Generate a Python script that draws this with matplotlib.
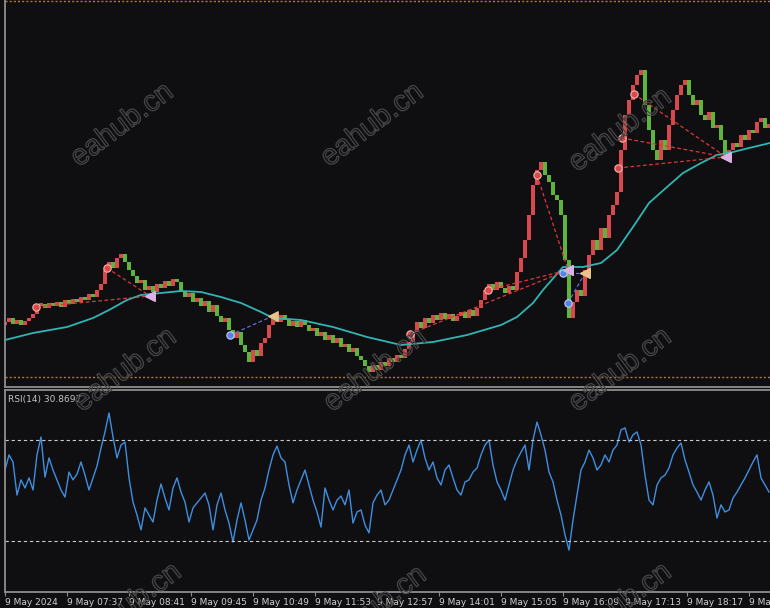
import numpy as np
import matplotlib.pyplot as plt
import matplotlib.patheffects as pe

# close of each 4-minute bar
close = [
    2307.8, 2308.2, 2307.6, 2308.0, 2307.5, 2307.9, 2308.2, 2308.6, 2309.4, 2309.6,
    2309.2, 2309.7, 2309.4, 2309.8, 2309.3, 2310.0, 2309.6, 2310.1, 2309.8, 2310.3,
    2310.0, 2310.6, 2310.3, 2311.0, 2311.6, 2313.0, 2313.8, 2313.2, 2314.2, 2314.6,
    2313.8, 2313.0, 2312.4, 2311.7, 2312.0, 2311.0, 2311.4, 2310.8, 2311.6, 2311.2,
    2311.9, 2311.4, 2312.1, 2311.8, 2310.8, 2310.3, 2310.7, 2309.8, 2310.2, 2309.4,
    2309.9, 2308.8, 2309.5, 2308.4, 2307.8, 2308.2, 2307.0, 2306.2, 2306.8, 2305.5,
    2304.8, 2303.8, 2305.0, 2304.4, 2305.7, 2306.2, 2307.5, 2308.2, 2307.8, 2308.5,
    2308.0, 2307.4, 2307.9, 2307.3, 2308.0, 2307.5, 2306.9, 2307.2, 2306.4, 2306.8,
    2306.0, 2306.5, 2305.7, 2306.2, 2305.3, 2305.6, 2304.8, 2305.2, 2304.4, 2304.0,
    2303.4, 2302.8, 2303.5, 2303.0, 2303.8, 2303.4, 2304.2, 2303.8, 2304.5, 2304.2,
    2305.1, 2305.8, 2306.8, 2307.8, 2307.2, 2308.2, 2307.7, 2308.5, 2308.0, 2308.7,
    2308.1, 2308.6, 2307.9, 2308.4, 2308.8, 2308.2, 2309.0, 2308.4, 2309.2, 2310.0,
    2311.0, 2311.6, 2311.0, 2311.8, 2311.2, 2310.7, 2311.4, 2311.0, 2312.8, 2314.2,
    2316.0, 2318.5, 2321.5, 2323.0, 2323.8, 2322.5, 2321.8, 2320.5, 2320.0, 2318.5,
    2314.0, 2308.2, 2309.8, 2311.0, 2310.4, 2313.0, 2314.5, 2316.0, 2315.0, 2317.2,
    2316.2, 2318.5, 2319.5, 2320.8, 2325.0, 2328.5, 2330.0, 2331.5, 2332.5, 2333.0,
    2329.5, 2327.0, 2325.0, 2324.0, 2326.0, 2325.0, 2327.5, 2329.0, 2330.5, 2331.5,
    2332.0, 2330.5, 2329.5, 2330.0, 2328.5, 2328.0, 2328.8, 2327.2, 2327.5, 2326.0,
    2324.2, 2325.0, 2325.7, 2325.3, 2326.5, 2326.0, 2327.0, 2326.7, 2327.8, 2328.2,
    2327.2, 2327.6,
]
first_open = 2307.5

# moving average (bar index, price)
ma_idx = [0, 7, 15.5, 22, 26, 30.5, 34, 39, 44, 49, 54, 59, 64, 67, 74, 82, 90.5, 99,
          107, 115.5, 124, 128, 132, 134.5, 139.5, 144.5, 149, 153, 157, 161, 165.5,
          169.5, 174, 178, 182, 186, 191.25]
ma_val = [2306.0, 2306.7, 2307.3, 2308.2, 2309.0, 2310.0, 2310.5, 2310.7, 2310.9,
          2310.8, 2310.3, 2309.7, 2308.8, 2308.2, 2308.0, 2307.3, 2306.3, 2305.5,
          2305.8, 2306.5, 2307.5, 2308.3, 2309.7, 2311.0, 2313.3, 2313.3, 2313.7,
          2315.0, 2317.3, 2319.7, 2321.3, 2322.7, 2323.7, 2324.5, 2324.8, 2325.2,
          2325.7]

rsi = [
    58.1, 64.1, 61.3, 48.2, 54.2, 51.0, 55.0, 50.2, 64.1, 71.2,
    55.3, 62.9, 58.1, 54.2, 50.2, 47.4, 57.3, 54.2, 56.5, 61.3,
    56.1, 50.2, 55.0, 59.7, 66.8, 73.2, 80.7, 71.2, 62.9, 68.0,
    69.2, 55.0, 45.4, 40.3, 34.4, 43.1, 40.3, 37.5, 46.2, 52.6,
    47.0, 42.3, 51.0, 55.0, 49.4, 45.4, 37.5, 43.1, 45.1, 47.0,
    49.0, 44.3, 34.4, 44.3, 49.0, 42.3, 37.1, 29.6, 38.3, 45.1,
    38.3, 30.4, 34.4, 38.3, 46.2, 51.0, 58.1, 64.1, 67.6, 62.9,
    61.3, 52.2, 45.1, 50.2, 54.2, 58.1, 52.2, 46.2, 41.5, 35.5,
    51.0, 46.2, 42.3, 46.2, 47.8, 44.3, 50.2, 37.1, 41.5, 42.3,
    36.3, 33.2, 45.1, 48.2, 50.2, 44.3, 46.2, 50.2, 54.2, 58.1,
    64.1, 68.0, 61.3, 66.0, 70.0, 62.9, 58.1, 61.3, 55.0, 52.2,
    58.1, 60.1, 55.0, 50.2, 48.2, 53.4, 54.2, 57.3, 58.9, 64.1,
    68.0, 70.0, 60.1, 53.4, 50.2, 46.2, 52.2, 58.1, 62.1, 65.2,
    68.0, 58.1, 70.0, 77.1, 72.0, 66.0, 57.3, 53.4, 46.2, 40.3,
    32.4, 26.4, 38.3, 48.2, 58.1, 61.3, 66.0, 62.9, 58.1, 60.1,
    64.1, 61.3, 66.0, 68.0, 74.0, 74.8, 69.2, 72.0, 73.2, 68.0,
    56.1, 46.2, 44.3, 52.2, 55.0, 56.1, 58.9, 64.1, 66.8, 68.8,
    62.1, 57.3, 52.2, 49.4, 46.2, 50.2, 53.4, 48.2, 39.1, 44.3,
    41.5, 42.3, 47.0, 49.4, 52.2, 55.0, 58.1, 61.3, 64.1, 55.0,
    52.2, 49.4,
]

# trades: entry (bar, price) -> exit (bar, price)
sell_entries = [(7.75, 2309.3), (25.5, 2313.2), (101.25, 2306.6), (120.75, 2311.0),
                (133, 2322.5), (153.25, 2323.2), (154.25, 2326.2), (157.25, 2330.6)]
sell_exits = [(36.25, 2310.4), (36.25, 2310.4), (140.75, 2313.0), (140.75, 2313.0),
              (140.75, 2313.0), (180.25, 2324.3), (180.25, 2324.3), (180.25, 2324.3)]
buy_entries = [(56.25, 2306.5), (139.5, 2312.7), (140.75, 2309.7)]
buy_exits = [(67, 2308.4), (145, 2312.7), (145, 2312.7)]

levels = [2339.9, 2302.3]

tick_minutes = [0, 64, 128, 192, 256, 320, 384, 448, 512, 576, 640, 704, 768]
tick_labels = ["9 May 2024", "9 May 07:37", "9 May 08:41", "9 May 09:45",
               "9 May 10:49", "9 May 11:53", "9 May 12:57", "9 May 14:01",
               "9 May 15:05", "9 May 16:09", "9 May 17:13", "9 May 18:17",
               "9 May 19:21"]
bar_minutes = 64 / 15.5

bg = "#0f0e11"
grey = "#8e8e8e"

fig = plt.figure(figsize=(7.70, 6.08), dpi=100, facecolor=bg)
ax = fig.add_axes([5 / 770, 1 - 387 / 608, 765 / 770, 387 / 608], facecolor=bg)
ax2 = fig.add_axes([5 / 770, 16 / 608, 765 / 770, 202 / 608], facecolor=bg)

# candles, open = previous close
x = np.arange(len(close))
c = np.array(close)
o = np.array([first_open] + close[:-1])
up = c >= o
h = np.where(np.abs(c - o) < 0.3, np.where(up, 0.3, -0.3), c - o)
ax.bar(x[up], h[up], bottom=o[up], width=0.85, color="#d9484c", linewidth=0)
ax.bar(x[~up], h[~up], bottom=o[~up], width=0.85, color="#5fb43e", linewidth=0)

ax.plot(ma_idx, ma_val, color="#2fb5b2", lw=1.3, zorder=3)

for lv in levels:
    ax.axhline(lv, color="#b5782e", lw=1.0, ls=(0, (1.5, 1.5)))

for (x0, y0), (x1, y1) in zip(sell_entries, sell_exits):
    ax.plot([x0, x1], [y0, y1], color="#d83a3a", lw=0.9, ls=(0, (3, 2)), zorder=4)
for (x0, y0), (x1, y1) in zip(buy_entries, buy_exits):
    ax.plot([x0, x1], [y0, y1], color="#5870d8", lw=0.9, ls=(0, (3, 2)), zorder=4)

ax.scatter(*zip(*sell_entries), s=28, color="#e04848", edgecolors="#f2b5b5",
           linewidths=0.8, zorder=5)
ax.scatter(*zip(*buy_entries), s=28, color="#5a82e6", edgecolors="#c0d0f8",
           linewidths=0.8, zorder=5)
ax.scatter(*zip(*sell_exits), s=45, marker="<", color="#dcb0e4", zorder=5)
ax.scatter(*zip(*buy_exits), s=45, marker="<", color="#e8c48a", zorder=5)

ax.set_xlim(0, 191.25)
ax.set_ylim(2301.3, 2340.0)
ax.set_xticks([])
ax.set_yticks([])

# RSI panel
ax2.plot(np.arange(len(rsi)), rsi, color="#3f8fe0", lw=1.0)
for lv in (70, 30):
    ax2.axhline(lv, color="#c8c8c8", lw=0.8, ls=(0, (3, 2.5)))
ax2.set_xlim(0, 191.25)
ax2.set_ylim(9.8, 89.8)
ax2.set_yticks([])
ax2.text(0.004, 0.975, "RSI(14) 30.8697", transform=ax2.transAxes, color="#c4c4c4",
         fontsize=6.5, va="top", ha="left")

ax2.set_xticks(np.array(tick_minutes) / bar_minutes)
ax2.set_xticklabels(tick_labels)
ax2.tick_params(axis="x", direction="out", length=3, pad=1, color=grey,
                labelcolor="#d0d0d0", labelsize=6.5)
for lab in ax2.get_xticklabels():
    lab.set_horizontalalignment("left")

for a in (ax, ax2):
    for s in a.spines.values():
        s.set_color(grey)
        s.set_linewidth(1.3)
    a.spines["right"].set_visible(False)
ax.spines["top"].set_visible(False)

# watermark
for fx, fy in [(122, 125), (372, 125), (620, 130), (125, 370), (375, 370),
               (620, 370), (130, 605), (375, 608), (620, 605)]:
    fig.text(fx / 770, 1 - fy / 608, "eahub.cn", rotation=37, fontsize=21,
             ha="center", va="center", color="none", family="Liberation Sans",
             path_effects=[pe.withStroke(linewidth=0.9, foreground="#464646")],
             zorder=10)

fig.savefig("out.png", dpi=100, facecolor=bg)
